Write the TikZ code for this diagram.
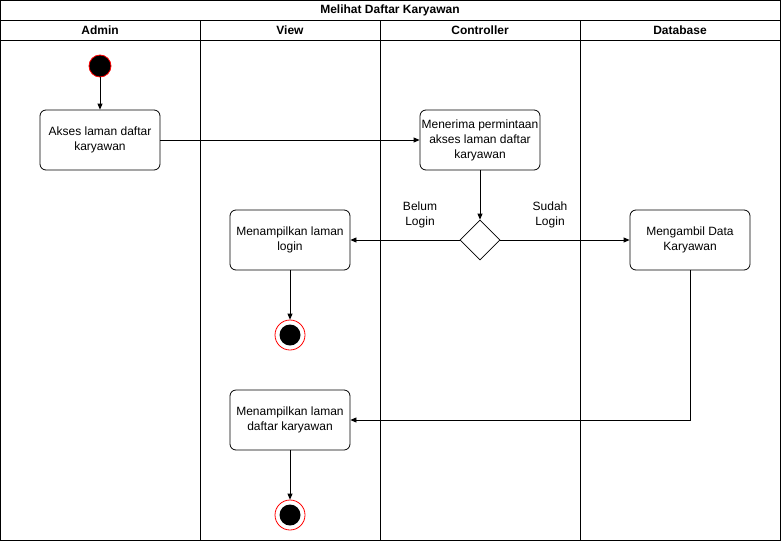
\documentclass[tikz,border=0pt]{standalone}
\usepackage{fontspec}
\setmainfont{Liberation Sans}
\usetikzlibrary{shapes.geometric,arrows.meta}
\tikzset{
  act/.style={draw,rounded corners=6pt,minimum width=120pt,minimum height=60pt,inner xsep=1pt,align=center,font=\fontsize{12}{15}\selectfont},
  lbl/.style={align=center,font=\fontsize{12}{15}\selectfont},
  hdr/.style={font=\bfseries\fontsize{12}{14}\selectfont},
  startdot/.style={circle,fill=black,draw=red,minimum size=22pt,inner sep=0pt},
  enddot/.style={circle,draw=red,fill=white,minimum size=30pt,inner sep=0pt,path picture={\fill[black] (path picture bounding box.center) circle (10.5pt);}},
  flow/.style={-{Triangle[length=6pt,width=5pt]}}
}
\begin{document}
\begin{tikzpicture}[x=1pt,y=-1pt,line width=0.8pt]
          \useasboundingbox (0,0) rectangle (781,541);
          % swimlanes
          \draw (0.5,0.5) rectangle (780.5,540.5);
          \draw (0.5,20) -- (780.5,20);
          \draw (0.5,40) -- (780.5,40);
          \draw (200,20) -- (200,540.5);
          \draw (380,20) -- (380,540.5);
          \draw (580,20) -- (580,540.5);
          \node[hdr] at (390,10) (title) {Melihat Daftar Karyawan};
          \node[hdr] at (100,30) (admin) {Admin};
          \node[hdr] at (290,30) (view) {View};
          \node[hdr] at (480,30) (controller) {Controller};
          \node[hdr] at (680,30) (database) {Database};
          % activities
          \node[startdot] at (100,66) (start) {};
          \node[act] at (100,140) (akses) {Akses laman daftar\\karyawan};
          \node[act] at (480,140) (terima) {Menerima permintaan\\akses laman daftar\\karyawan};
          \node[draw,diamond,minimum width=40pt,minimum height=40pt,inner sep=0pt] at (480,240) (cek) {};
          \node[act] at (290,240) (login) {Menampilkan laman\\login};
          \node[act] at (690,240) (ambil) {Mengambil Data\\Karyawan};
          \node[enddot] at (290,335) (end1) {};
          \node[act] at (290,420) (daftar) {Menampilkan laman\\daftar karyawan};
          \node[enddot] at (290,515) (end2) {};
          \node[lbl] at (420,215) (belum) {Belum\\Login};
          \node[lbl] at (550,215) (sudah) {Sudah\\Login};
          % flows
          \path[flow] (start) edge (akses);
          \path[flow] (akses) edge (terima);
          \path[flow] (terima) edge (cek);
          \path[flow] (cek) edge (login);
          \path[flow] (cek) edge (ambil);
          \path[flow] (login) edge (end1);
          \draw[flow] (ambil.south) |- (daftar.east);
          \path[flow] (daftar) edge (end2);
\end{tikzpicture}
\end{document}
